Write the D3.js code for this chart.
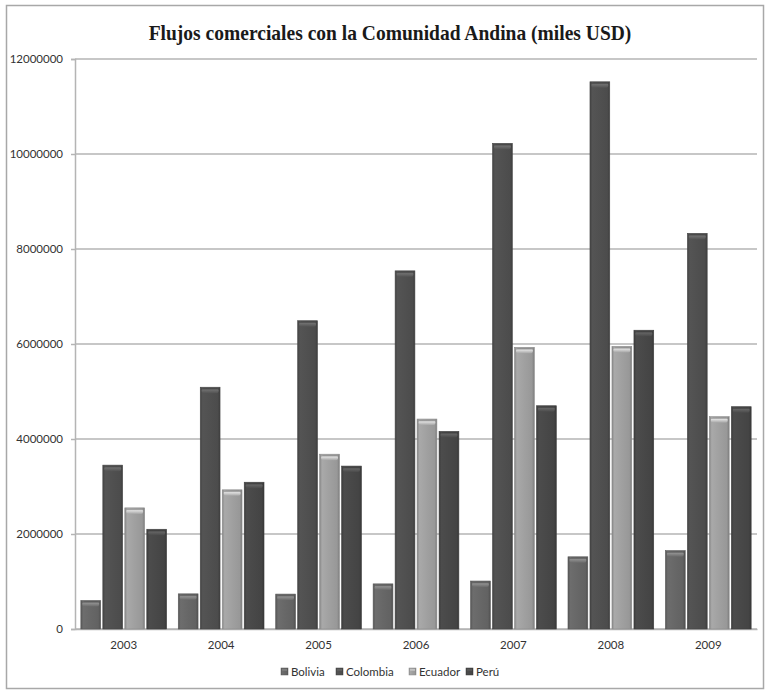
<!DOCTYPE html>
<html>
<head>
<meta charset="utf-8">
<script src="https://cdn.jsdelivr.net/npm/d3@7"></script>
<style>
  html, body { margin: 0; padding: 0; background: #ffffff; }
  svg { display: block; }
</style>
</head>
<body>
<svg id="chart" width="770" height="694"></svg>
<script>
// Trade flows with the Andean Community, thousands of USD
const years = ["2003", "2004", "2005", "2006", "2007", "2008", "2009"];
const seriesNames = ["Bolivia", "Colombia", "Ecuador", "Perú"];
const bolivia  = [600000, 740000, 735000, 950000, 1010000, 1520000, 1650000];
const colombia = [3450000, 5090000, 6490000, 7540000, 10225000, 11520000, 8330000];
const ecuador  = [2550000, 2930000, 3680000, 4420000, 5930000, 5950000, 4470000];
const peru     = [2100000, 3090000, 3430000, 4160000, 4700000, 6290000, 4680000];
const yTicks = [0, 2000000, 4000000, 6000000, 8000000, 10000000, 12000000];
const seriesColors = ["#676767", "#505050", "#a0a0a0", "#484848"];

const seriesValues = [bolivia, colombia, ecuador, peru];

const svg = d3.select("#chart");
const defs = svg.append("defs");

// outer frame
svg.append("rect")
  .attr("x", 6.5).attr("y", 5.5).attr("width", 757).attr("height", 683)
  .attr("fill", "#ffffff").attr("stroke", "#a8a8a8").attr("stroke-width", 1.5);

// title (slightly condensed serif)
svg.append("text")
  .attr("transform", "translate(390,40) scale(0.93,1)")
  .attr("text-anchor", "middle")
  .attr("font-family", "'Liberation Serif', 'Times New Roman', serif")
  .attr("font-weight", "bold")
  .attr("font-size", 21)
  .attr("fill", "#1a1a1a")
  .text("Flujos comerciales con la Comunidad Andina (miles USD)");

const plotLeft = 75, plotRight = 757, plotTop = 59, plotBottom = 629;

const x0 = d3.scaleBand().domain(years).range([plotLeft, plotRight])
  .paddingInner(0.12).paddingOuter(0.06);
const x1 = d3.scaleBand().domain(seriesNames).range([0, x0.bandwidth()])
  .paddingInner(0.1);
const y = d3.scaleLinear().domain([0, 12000000]).range([plotBottom, plotTop]);

// gradients: cylinder-like horizontal shading per series
seriesNames.forEach((name, i) => {
  const c = d3.color(seriesColors[i]);
  const g = defs.append("linearGradient").attr("id", "grad" + i)
    .attr("x1", "0%").attr("x2", "100%").attr("y1", "0%").attr("y2", "0%");
  g.append("stop").attr("offset", "0%").attr("stop-color", c.darker(0.5));
  g.append("stop").attr("offset", "12%").attr("stop-color", c.brighter(0.15));
  g.append("stop").attr("offset", "50%").attr("stop-color", c);
  g.append("stop").attr("offset", "88%").attr("stop-color", c.darker(0.15));
  g.append("stop").attr("offset", "100%").attr("stop-color", c.darker(0.7));
  const cap = defs.append("linearGradient").attr("id", "cap" + i)
    .attr("x1", "0%").attr("x2", "0%").attr("y1", "0%").attr("y2", "100%");
  cap.append("stop").attr("offset", "0%").attr("stop-color", c.darker(0.6));
  cap.append("stop").attr("offset", "35%").attr("stop-color", c.brighter(0.9));
  cap.append("stop").attr("offset", "100%").attr("stop-color", c.brighter(0.1));
});

// gridlines
svg.append("g")
  .selectAll("line")
  .data(yTicks)
  .join("line")
  .attr("x1", plotLeft).attr("x2", plotRight)
  .attr("y1", d => y(d)).attr("y2", d => y(d))
  .attr("stroke", "#b4b4b4").attr("stroke-width", 1.5);

// y axis
const yAxis = svg.append("g")
  .attr("transform", `translate(${plotLeft},0)`)
  .call(d3.axisLeft(y).tickValues(yTicks).tickFormat(d3.format("d")).tickSize(4).tickPadding(8));
yAxis.select(".domain").attr("stroke", "#b4b4b4").attr("stroke-width", 1.5);
yAxis.selectAll(".tick line").attr("stroke", "#b4b4b4").attr("stroke-width", 1.5);
yAxis.selectAll(".tick text")
  .attr("font-family", "Lato, 'Open Sans', sans-serif")
  .attr("font-size", 11.5).attr("fill", "#333");

// x axis
const xAxis = svg.append("g")
  .attr("transform", `translate(0,${plotBottom})`)
  .call(d3.axisBottom(x0).tickSize(0).tickPadding(12));
xAxis.select(".domain").attr("stroke", "#b4b4b4").attr("stroke-width", 1.5);
xAxis.selectAll(".tick text")
  .attr("font-family", "Lato, 'Open Sans', sans-serif")
  .attr("font-size", 11.5).attr("fill", "#333");

// bars
const groups = svg.append("g")
  .selectAll("g")
  .data(years)
  .join("g")
  .attr("transform", d => `translate(${x0(d)},0)`);

const barData = (yr, yi) => seriesNames.map((s, si) => ({ s, si, v: seriesValues[si][yi] }));

groups.each(function (yr, yi) {
  const g = d3.select(this);
  const data = barData(yr, yi);
  g.selectAll("rect.bar")
    .data(data)
    .join("rect")
    .attr("class", "bar")
    .attr("x", d => x1(d.s))
    .attr("y", d => y(d.v))
    .attr("width", x1.bandwidth())
    .attr("height", d => y(0) - y(d.v))
    .attr("fill", d => `url(#grad${d.si})`)
    .attr("stroke", d => d3.color(seriesColors[d.si]).darker(0.4))
    .attr("stroke-width", 0.6);
  g.selectAll("rect.cap")
    .data(data)
    .join("rect")
    .attr("class", "cap")
    .attr("x", d => x1(d.s) + 1.5)
    .attr("y", d => y(d.v) + 1)
    .attr("width", x1.bandwidth() - 3)
    .attr("height", 5)
    .attr("rx", 2)
    .attr("fill", d => `url(#cap${d.si})`);
});

// legend
const legendItems = [
  { name: "Bolivia", x: 281 },
  { name: "Colombia", x: 336 },
  { name: "Ecuador", x: 409 },
  { name: "Perú", x: 466 }
];
const legend = svg.append("g");
legendItems.forEach((it, i) => {
  const lg = legend.append("g").attr("transform", `translate(${it.x},676)`);
  lg.append("rect").attr("x", 0).attr("y", -8).attr("width", 7).attr("height", 7)
    .attr("fill", `url(#grad${i})`).attr("stroke", d3.color(seriesColors[i]).darker(0.4)).attr("stroke-width", 0.5);
  lg.append("rect").attr("x", 1).attr("y", -7).attr("width", 5).attr("height", 2)
    .attr("fill", `url(#cap${i})`);
  lg.append("text").attr("x", 10).attr("y", 0)
    .attr("font-family", "Lato, 'Open Sans', sans-serif")
    .attr("font-size", 11.5).attr("fill", "#333")
    .text(seriesNames[i]);
});
</script>
</body>
</html>
